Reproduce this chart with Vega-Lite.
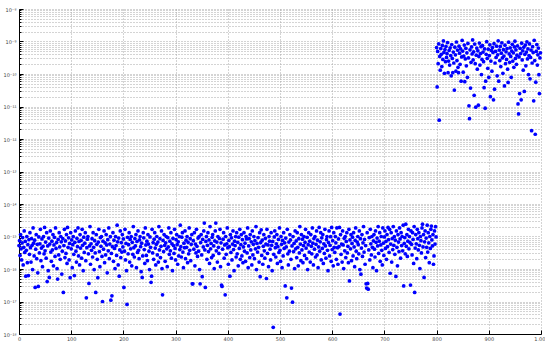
{
"$schema": "https://vega.github.io/schema/vega-lite/v6.json",
"width": 522, "height": 325,
"autosize": {"type": "none"},
"padding": {"left": 19, "top": 9, "right": 4, "bottom": 7},
"background": "white",
"config": {"view": {"stroke": null}},
"datasets": {"pts": [
{"x":0,"y":5.24e-16},{"x":1,"y":7.43e-16},{"x":2,"y":2.62e-16},{"x":3,"y":1.15e-15},{"x":4,"y":4.19e-16},{"x":5,"y":1.9e-16},{"x":6,"y":6.37e-16},{"x":7,"y":9.26e-16},{"x":8,"y":1.33e-16},{"x":9,"y":4.65e-16},
{"x":10,"y":1.48e-15},{"x":11,"y":3.22e-16},{"x":12,"y":7.02e-16},{"x":13,"y":6.0e-17},{"x":14,"y":3.75e-16},{"x":15,"y":1.0e-15},{"x":16,"y":1.56e-16},{"x":17,"y":5.61e-16},{"x":18,"y":6.3e-17},{"x":19,"y":7.98e-16},
{"x":20,"y":2.82e-16},{"x":21,"y":1.31e-15},{"x":22,"y":4.53e-16},{"x":23,"y":1.64e-16},{"x":24,"y":8.68e-16},{"x":25,"y":5.36e-16},{"x":26,"y":9.6e-17},{"x":27,"y":1.84e-15},{"x":28,"y":6.24e-16},{"x":29,"y":2.53e-16},
{"x":30,"y":7.7e-16},{"x":31,"y":2.7e-17},{"x":32,"y":4.08e-16},{"x":33,"y":1.15e-15},{"x":34,"y":2.07e-16},{"x":35,"y":5.73e-16},{"x":36,"y":7.6e-17},{"x":37,"y":2.9e-17},{"x":38,"y":9.7e-16},{"x":39,"y":3.12e-16},
{"x":40,"y":5.98e-16},{"x":41,"y":1.66e-15},{"x":42,"y":1.81e-16},{"x":43,"y":4.42e-16},{"x":44,"y":8.4e-16},{"x":45,"y":1.18e-16},{"x":46,"y":5.0e-16},{"x":47,"y":1.0e-15},{"x":48,"y":2.92e-16},{"x":49,"y":1.9e-15},
{"x":50,"y":3.64e-16},{"x":51,"y":6.76e-16},{"x":52,"y":2.16e-16},{"x":53,"y":1.31e-15},{"x":54,"y":4.1e-17},{"x":55,"y":5.12e-16},{"x":56,"y":8.9e-17},{"x":57,"y":8.97e-16},{"x":58,"y":5.5e-17},{"x":59,"y":5.86e-16},
{"x":60,"y":1.48e-15},{"x":61,"y":3.33e-16},{"x":62,"y":1.73e-16},{"x":63,"y":7.16e-16},{"x":64,"y":3.86e-16},{"x":65,"y":1.15e-15},{"x":66,"y":1.25e-16},{"x":67,"y":5.48e-16},{"x":68,"y":9.41e-16},{"x":69,"y":2.44e-16},
{"x":70,"y":1.84e-15},{"x":71,"y":4.3e-16},{"x":72,"y":6.5e-16},{"x":73,"y":1.03e-16},{"x":74,"y":4.9e-17},{"x":75,"y":8.11e-16},{"x":76,"y":2.72e-16},{"x":77,"y":1.31e-15},{"x":78,"y":4.76e-16},{"x":79,"y":1.98e-16},
{"x":80,"y":1.0e-15},{"x":81,"y":6.89e-16},{"x":82,"y":7.0e-17},{"x":83,"y":3.54e-16},{"x":84,"y":8.54e-16},{"x":85,"y":1.9e-17},{"x":86,"y":5.24e-16},{"x":87,"y":1.66e-15},{"x":88,"y":2.25e-16},{"x":89,"y":7.29e-16},
{"x":90,"y":3.02e-16},{"x":91,"y":1.15e-15},{"x":92,"y":1.48e-16},{"x":93,"y":1.9e-15},{"x":94,"y":4.65e-16},{"x":95,"y":9.11e-16},{"x":96,"y":1.9e-16},{"x":97,"y":6.11e-16},{"x":98,"y":5.4e-17},{"x":99,"y":1.31e-15},
{"x":100,"y":4.19e-16},{"x":101,"y":7.84e-16},{"x":102,"y":1.1e-16},{"x":103,"y":5.61e-16},{"x":104,"y":1.0e-15},{"x":105,"y":2.82e-16},{"x":106,"y":6.3e-17},{"x":107,"y":6.63e-16},{"x":108,"y":1.48e-15},{"x":109,"y":3.54e-16},
{"x":110,"y":1.64e-16},{"x":111,"y":8.83e-16},{"x":112,"y":4.88e-16},{"x":113,"y":1.84e-15},{"x":114,"y":2.53e-16},{"x":115,"y":7.02e-16},{"x":116,"y":1.33e-16},{"x":117,"y":1.15e-15},{"x":118,"y":4.42e-16},{"x":119,"y":7.56e-16},
{"x":120,"y":2.16e-16},{"x":121,"y":1.66e-15},{"x":122,"y":5.36e-16},{"x":123,"y":8.9e-17},{"x":124,"y":9.55e-16},{"x":125,"y":3.22e-16},{"x":126,"y":6.24e-16},{"x":127,"y":1.31e-15},{"x":128,"y":1.81e-16},{"x":129,"y":1.3e-17},
{"x":130,"y":4.53e-16},{"x":131,"y":8.26e-16},{"x":132,"y":1.0e-15},{"x":133,"y":2.92e-16},{"x":134,"y":3.6e-17},{"x":135,"y":5.12e-16},{"x":136,"y":2.02e-15},{"x":137,"y":1.4e-16},{"x":138,"y":5.98e-16},{"x":139,"y":3.75e-16},
{"x":140,"y":8.54e-16},{"x":141,"y":2.34e-16},{"x":142,"y":1.31e-15},{"x":143,"y":4.65e-16},{"x":144,"y":9.6e-17},{"x":145,"y":7.43e-16},{"x":146,"y":3.12e-16},{"x":147,"y":1.9e-17},{"x":148,"y":1.15e-15},{"x":149,"y":5.73e-16},
{"x":150,"y":1.98e-16},{"x":151,"y":5.4e-17},{"x":152,"y":6.76e-16},{"x":153,"y":1.66e-15},{"x":154,"y":3.43e-16},{"x":155,"y":1.18e-16},{"x":156,"y":9.26e-16},{"x":157,"y":5.0e-16},{"x":158,"y":1.0e-15},{"x":159,"y":2.44e-16},
{"x":160,"y":1.0e-17},{"x":161,"y":7.16e-16},{"x":162,"y":4.08e-16},{"x":163,"y":1.48e-15},{"x":164,"y":1.56e-16},{"x":165,"y":6.37e-16},{"x":166,"y":2.72e-16},{"x":167,"y":1.15e-15},{"x":168,"y":5.48e-16},{"x":169,"y":7.6e-17},
{"x":170,"y":7.98e-16},{"x":171,"y":3.64e-16},{"x":172,"y":1.84e-15},{"x":173,"y":2.07e-16},{"x":174,"y":5.86e-16},{"x":175,"y":9.85e-16},{"x":176,"y":1.1e-17},{"x":177,"y":3.02e-16},{"x":178,"y":1.5e-17},{"x":179,"y":4.88e-16},
{"x":180,"y":1.31e-15},{"x":181,"y":1.73e-16},{"x":182,"y":7.7e-16},{"x":183,"y":4.3e-16},{"x":184,"y":1.03e-16},{"x":185,"y":1.0e-15},{"x":186,"y":5.24e-16},{"x":187,"y":2.62e-16},{"x":188,"y":2.22e-15},{"x":189,"y":6.89e-16},
{"x":190,"y":1.33e-16},{"x":191,"y":8.97e-16},{"x":192,"y":6.0e-17},{"x":193,"y":3.86e-16},{"x":194,"y":1.48e-15},{"x":195,"y":2.25e-16},{"x":196,"y":6.5e-16},{"x":197,"y":3.33e-16},{"x":198,"y":1.15e-15},{"x":199,"y":4.76e-16},
{"x":200,"y":8.4e-16},{"x":201,"y":2.7e-17},{"x":202,"y":3.54e-16},{"x":203,"y":1.66e-15},{"x":204,"y":1.9e-16},{"x":205,"y":6.11e-16},{"x":206,"y":8.9e-17},{"x":207,"y":8.1e-18},{"x":208,"y":9.41e-16},{"x":209,"y":2.92e-16},
{"x":210,"y":5.61e-16},{"x":211,"y":1.31e-15},{"x":212,"y":1.64e-16},{"x":213,"y":8.11e-16},{"x":214,"y":4.19e-16},{"x":215,"y":1.0e-15},{"x":216,"y":1.25e-16},{"x":217,"y":6.63e-16},{"x":218,"y":2.82e-16},{"x":219,"y":2.02e-15},
{"x":220,"y":4.53e-16},{"x":221,"y":2.34e-16},{"x":222,"y":8.68e-16},{"x":223,"y":5.12e-16},{"x":224,"y":1.15e-15},{"x":225,"y":1.1e-16},{"x":226,"y":7.02e-16},{"x":227,"y":3.22e-16},{"x":228,"y":1.48e-15},{"x":229,"y":3.75e-16},
{"x":230,"y":2.07e-16},{"x":231,"y":7.84e-16},{"x":232,"y":1.0e-15},{"x":233,"y":4.88e-16},{"x":234,"y":8.3e-17},{"x":235,"y":6.24e-16},{"x":236,"y":5.5e-17},{"x":237,"y":2.53e-16},{"x":238,"y":1.31e-15},{"x":239,"y":9.11e-16},
{"x":240,"y":3.97e-16},{"x":241,"y":1.48e-16},{"x":242,"y":1.84e-15},{"x":243,"y":5.48e-16},{"x":244,"y":2.62e-16},{"x":245,"y":7.16e-16},{"x":246,"y":1.81e-16},{"x":247,"y":1.15e-15},{"x":248,"y":5.86e-16},{"x":249,"y":3.54e-16},
{"x":250,"y":9.6e-17},{"x":251,"y":9.7e-16},{"x":252,"y":4.65e-16},{"x":253,"y":3.9e-17},{"x":254,"y":6.0e-17},{"x":255,"y":1.66e-15},{"x":256,"y":3.12e-16},{"x":257,"y":6.5e-16},{"x":258,"y":1.98e-16},{"x":259,"y":8.26e-16},
{"x":260,"y":1.31e-15},{"x":261,"y":4.42e-16},{"x":262,"y":1.33e-16},{"x":263,"y":5.73e-16},{"x":264,"y":1.0e-15},{"x":265,"y":2.72e-16},{"x":266,"y":6.76e-16},{"x":267,"y":1.64e-16},{"x":268,"y":2.02e-15},{"x":269,"y":3.86e-16},
{"x":270,"y":8.54e-16},{"x":271,"y":2.25e-16},{"x":272,"y":5.0e-16},{"x":273,"y":1.48e-15},{"x":274,"y":1.03e-16},{"x":275,"y":1.6e-17},{"x":276,"y":7.56e-16},{"x":277,"y":3.43e-16},{"x":278,"y":1.15e-15},{"x":279,"y":5.36e-16},
{"x":280,"y":1.73e-16},{"x":281,"y":6.37e-16},{"x":282,"y":1.0e-15},{"x":283,"y":4.19e-16},{"x":284,"y":1.18e-16},{"x":285,"y":9.26e-16},{"x":286,"y":4.76e-16},{"x":287,"y":1.84e-15},{"x":288,"y":2.82e-16},{"x":289,"y":7.16e-16},
{"x":290,"y":3.64e-16},{"x":291,"y":1.31e-15},{"x":292,"y":2.16e-16},{"x":293,"y":5.98e-16},{"x":294,"y":8.9e-17},{"x":295,"y":8.83e-16},{"x":296,"y":5.24e-16},{"x":297,"y":3.02e-16},{"x":298,"y":1.66e-15},{"x":299,"y":4.3e-16},
{"x":300,"y":1.9e-16},{"x":301,"y":7.98e-16},{"x":302,"y":1.15e-15},{"x":303,"y":5.61e-16},{"x":304,"y":1.4e-16},{"x":305,"y":6.89e-16},{"x":306,"y":2.53e-16},{"x":307,"y":1.0e-15},{"x":308,"y":3.97e-16},{"x":309,"y":2.22e-15},
{"x":310,"y":4.88e-16},{"x":311,"y":2.34e-16},{"x":312,"y":9.55e-16},{"x":313,"y":1.31e-15},{"x":314,"y":3.33e-16},{"x":315,"y":1.1e-16},{"x":316,"y":6.24e-16},{"x":317,"y":4.53e-16},{"x":318,"y":1.48e-15},{"x":319,"y":2.07e-16},
{"x":320,"y":7.7e-16},{"x":321,"y":4.65e-16},{"x":322,"y":1.0e-15},{"x":323,"y":1.56e-16},{"x":324,"y":6.63e-16},{"x":325,"y":2.92e-16},{"x":326,"y":1.84e-15},{"x":327,"y":3.75e-16},{"x":328,"y":8.54e-16},{"x":329,"y":1.81e-16},
{"x":330,"y":5.73e-16},{"x":331,"y":1.15e-15},{"x":332,"y":3.5e-17},{"x":333,"y":3.5e-17},{"x":334,"y":7.43e-16},{"x":335,"y":4.08e-16},{"x":336,"y":1.31e-15},{"x":337,"y":1.25e-16},{"x":338,"y":5.86e-16},{"x":339,"y":3.12e-16},
{"x":340,"y":1.66e-15},{"x":341,"y":5.0e-16},{"x":342,"y":2.44e-16},{"x":343,"y":8.97e-16},{"x":344,"y":3.54e-16},{"x":345,"y":1.0e-15},{"x":346,"y":9.6e-17},{"x":347,"y":3.5e-17},{"x":348,"y":6.5e-16},{"x":349,"y":1.15e-15},
{"x":350,"y":2.72e-16},{"x":351,"y":5.8e-17},{"x":352,"y":8.11e-16},{"x":353,"y":4.76e-16},{"x":354,"y":1.48e-15},{"x":355,"y":2.6e-15},{"x":356,"y":3.86e-16},{"x":357,"y":2.7e-17},{"x":358,"y":7.02e-16},{"x":359,"y":1.0e-15},
{"x":360,"y":1.98e-16},{"x":361,"y":5.36e-16},{"x":362,"y":1.31e-15},{"x":363,"y":3.43e-16},{"x":364,"y":7.84e-16},{"x":365,"y":1.48e-16},{"x":366,"y":2.02e-15},{"x":367,"y":4.19e-16},{"x":368,"y":6.11e-16},{"x":369,"y":2.25e-16},
{"x":370,"y":9.41e-16},{"x":371,"y":1.15e-15},{"x":372,"y":2.62e-16},{"x":373,"y":5.12e-16},{"x":374,"y":1.03e-16},{"x":375,"y":7.29e-16},{"x":376,"y":1.48e-15},{"x":377,"y":2.6e-15},{"x":378,"y":3.64e-16},{"x":379,"y":6.76e-16},
{"x":380,"y":1.64e-16},{"x":381,"y":1.0e-15},{"x":382,"y":4.65e-16},{"x":383,"y":3.02e-16},{"x":384,"y":8.68e-16},{"x":385,"y":1.66e-15},{"x":386,"y":1.18e-16},{"x":387,"y":6.37e-16},{"x":388,"y":3.2e-17},{"x":389,"y":2.9e-17},
{"x":390,"y":4.08e-16},{"x":391,"y":8.26e-16},{"x":392,"y":1.31e-15},{"x":393,"y":2.16e-16},{"x":394,"y":5.48e-16},{"x":395,"y":1.6e-17},{"x":396,"y":1.0e-15},{"x":397,"y":2.82e-16},{"x":398,"y":5.98e-16},{"x":399,"y":1.84e-15},
{"x":400,"y":4.53e-16},{"x":401,"y":1.4e-16},{"x":402,"y":7.56e-16},{"x":403,"y":4.88e-16},{"x":404,"y":6.0e-17},{"x":405,"y":1.15e-15},{"x":406,"y":3.22e-16},{"x":407,"y":9.11e-16},{"x":408,"y":1.9e-16},{"x":409,"y":5.86e-16},
{"x":410,"y":1.48e-15},{"x":411,"y":3.97e-16},{"x":412,"y":8.9e-17},{"x":413,"y":7.16e-16},{"x":414,"y":5.24e-16},{"x":415,"y":1.0e-15},{"x":416,"y":2.34e-16},{"x":417,"y":1.31e-15},{"x":418,"y":2.92e-16},{"x":419,"y":6.63e-16},
{"x":420,"y":1.25e-16},{"x":421,"y":9.55e-16},{"x":422,"y":4.3e-16},{"x":423,"y":1.66e-15},{"x":424,"y":1.98e-16},{"x":425,"y":5.61e-16},{"x":426,"y":1.15e-15},{"x":427,"y":2.53e-16},{"x":428,"y":7.98e-16},{"x":429,"y":1.56e-16},
{"x":430,"y":4.76e-16},{"x":431,"y":1.31e-15},{"x":432,"y":3.54e-16},{"x":433,"y":6.24e-16},{"x":434,"y":1.73e-16},{"x":435,"y":1.0e-15},{"x":436,"y":8.4e-16},{"x":437,"y":3.12e-16},{"x":438,"y":1.84e-15},{"x":439,"y":1.1e-16},
{"x":440,"y":5.12e-16},{"x":441,"y":8.54e-16},{"x":442,"y":2.25e-16},{"x":443,"y":1.15e-15},{"x":444,"y":3.86e-16},{"x":445,"y":6.89e-16},{"x":446,"y":1.33e-16},{"x":447,"y":1.48e-15},{"x":448,"y":2.72e-16},{"x":449,"y":5.73e-16},
{"x":450,"y":1.0e-15},{"x":451,"y":2.07e-16},{"x":452,"y":7.43e-16},{"x":453,"y":4.19e-16},{"x":454,"y":2.02e-15},{"x":455,"y":9.6e-17},{"x":456,"y":6.11e-16},{"x":457,"y":3.33e-16},{"x":458,"y":9.26e-16},{"x":459,"y":4.65e-16},
{"x":460,"y":1.64e-16},{"x":461,"y":1.31e-15},{"x":462,"y":5.8e-17},{"x":463,"y":6.5e-16},{"x":464,"y":1.6e-15},{"x":465,"y":2.62e-16},{"x":466,"y":7.7e-16},{"x":467,"y":1.4e-16},{"x":468,"y":5.0e-16},{"x":469,"y":1.15e-15},
{"x":470,"y":3.64e-16},{"x":471,"y":2.16e-16},{"x":472,"y":8.83e-16},{"x":473,"y":5.86e-16},{"x":474,"y":5.1e-17},{"x":475,"y":1.66e-15},{"x":476,"y":3.02e-16},{"x":477,"y":5.48e-16},{"x":478,"y":1.18e-16},{"x":479,"y":1.0e-15},
{"x":480,"y":7.16e-16},{"x":481,"y":4.08e-16},{"x":482,"y":1.9e-16},{"x":483,"y":1.31e-15},{"x":484,"y":5.36e-16},{"x":485,"y":8.9e-17},{"x":486,"y":7.02e-16},{"x":487,"y":1.6e-18},{"x":488,"y":2.82e-16},{"x":489,"y":9.7e-16},
{"x":490,"y":1.48e-15},{"x":491,"y":4.53e-16},{"x":492,"y":2.34e-16},{"x":493,"y":5.98e-16},{"x":494,"y":1.15e-15},{"x":495,"y":1.48e-16},{"x":496,"y":4.88e-16},{"x":497,"y":8.11e-16},{"x":498,"y":3.22e-16},{"x":499,"y":1.84e-15},
{"x":500,"y":3.75e-16},{"x":501,"y":1.73e-16},{"x":502,"y":1.0e-15},{"x":503,"y":5.73e-16},{"x":504,"y":1.1e-16},{"x":505,"y":7.56e-16},{"x":506,"y":2.53e-16},{"x":507,"y":1.31e-15},{"x":508,"y":4.3e-16},{"x":509,"y":6.37e-16},
{"x":510,"y":3.0e-17},{"x":511,"y":8.97e-16},{"x":512,"y":4.76e-16},{"x":513,"y":1.3e-17},{"x":514,"y":1.66e-15},{"x":515,"y":2.92e-16},{"x":516,"y":1.33e-16},{"x":517,"y":6.76e-16},{"x":518,"y":3.54e-16},{"x":519,"y":1.15e-15},
{"x":520,"y":7.84e-16},{"x":521,"y":1.98e-16},{"x":522,"y":2.6e-17},{"x":523,"y":5.12e-16},{"x":524,"y":9.5e-18},{"x":525,"y":1.0e-15},{"x":526,"y":3.43e-16},{"x":527,"y":6.11e-16},{"x":528,"y":1.03e-16},{"x":529,"y":1.48e-15},
{"x":530,"y":4.19e-16},{"x":531,"y":7.29e-16},{"x":532,"y":2.25e-16},{"x":533,"y":1.31e-15},{"x":534,"y":4.65e-16},{"x":535,"y":1.25e-16},{"x":536,"y":8.54e-16},{"x":537,"y":3.12e-16},{"x":538,"y":2.02e-15},{"x":539,"y":5.86e-16},
{"x":540,"y":1.81e-16},{"x":541,"y":1.15e-15},{"x":542,"y":3.86e-16},{"x":543,"y":8.26e-16},{"x":544,"y":1.56e-16},{"x":545,"y":5.24e-16},{"x":546,"y":1.0e-15},{"x":547,"y":2.62e-16},{"x":548,"y":6.63e-16},{"x":549,"y":1.66e-15},
{"x":550,"y":4.42e-16},{"x":551,"y":2.07e-16},{"x":552,"y":9.41e-16},{"x":553,"y":9.6e-17},{"x":554,"y":5.61e-16},{"x":555,"y":1.31e-15},{"x":556,"y":3.33e-16},{"x":557,"y":7.16e-16},{"x":558,"y":1.64e-16},{"x":559,"y":1.15e-15},
{"x":560,"y":5.0e-16},{"x":561,"y":2.92e-16},{"x":562,"y":1.84e-15},{"x":563,"y":6.24e-16},{"x":564,"y":1.33e-16},{"x":565,"y":8.68e-16},{"x":566,"y":4.08e-16},{"x":567,"y":1.0e-15},{"x":568,"y":2.34e-16},{"x":569,"y":5.73e-16},
{"x":570,"y":1.48e-15},{"x":571,"y":2.72e-16},{"x":572,"y":7.7e-16},{"x":573,"y":1.1e-16},{"x":574,"y":4.76e-16},{"x":575,"y":1.9e-15},{"x":576,"y":3.54e-16},{"x":577,"y":6.89e-16},{"x":578,"y":1.31e-15},{"x":579,"y":1.9e-16},
{"x":580,"y":9.11e-16},{"x":581,"y":4.3e-16},{"x":582,"y":1.15e-15},{"x":583,"y":1.48e-16},{"x":584,"y":5.98e-16},{"x":585,"y":3.02e-16},{"x":586,"y":1.66e-15},{"x":587,"y":5.12e-16},{"x":588,"y":2.16e-16},{"x":589,"y":7.98e-16},
{"x":590,"y":1.0e-15},{"x":591,"y":3.75e-16},{"x":592,"y":8.9e-17},{"x":593,"y":6.5e-16},{"x":594,"y":1.48e-15},{"x":595,"y":2.53e-16},{"x":596,"y":5.36e-16},{"x":597,"y":9.85e-16},{"x":598,"y":1.73e-16},{"x":599,"y":1.9e-15},
{"x":600,"y":3.97e-16},{"x":601,"y":7.43e-16},{"x":602,"y":1.25e-16},{"x":603,"y":1.31e-15},{"x":604,"y":4.65e-16},{"x":605,"y":3.22e-16},{"x":606,"y":1.0e-15},{"x":607,"y":6.37e-16},{"x":608,"y":1.98e-16},{"x":609,"y":1.84e-15},
{"x":610,"y":4.53e-16},{"x":611,"y":1.4e-16},{"x":612,"y":8.4e-16},{"x":613,"y":4.88e-16},{"x":614,"y":1.9e-15},{"x":615,"y":4.1e-18},{"x":616,"y":1.15e-15},{"x":617,"y":2.82e-16},{"x":618,"y":5.86e-16},{"x":619,"y":1.64e-16},
{"x":620,"y":1.48e-15},{"x":621,"y":5.48e-16},{"x":622,"y":1.03e-16},{"x":623,"y":8.83e-16},{"x":624,"y":3.64e-16},{"x":625,"y":1.0e-15},{"x":626,"y":2.25e-16},{"x":627,"y":7.02e-16},{"x":628,"y":1.31e-15},{"x":629,"y":3.12e-16},
{"x":630,"y":5.0e-16},{"x":631,"y":1.56e-16},{"x":632,"y":1.66e-15},{"x":633,"y":4.3e-17},{"x":634,"y":7.84e-16},{"x":635,"y":4.19e-16},{"x":636,"y":1.15e-15},{"x":637,"y":1.81e-16},{"x":638,"y":6.11e-16},{"x":639,"y":9.55e-16},
{"x":640,"y":2.53e-16},{"x":641,"y":1.31e-15},{"x":642,"y":4.76e-16},{"x":643,"y":1.18e-16},{"x":644,"y":7.56e-16},{"x":645,"y":1.84e-15},{"x":646,"y":3.54e-16},{"x":647,"y":2.07e-16},{"x":648,"y":6.76e-16},{"x":649,"y":1.0e-15},
{"x":650,"y":5.61e-16},{"x":651,"y":2.92e-16},{"x":652,"y":1.48e-15},{"x":653,"y":9.6e-17},{"x":654,"y":8.54e-16},{"x":655,"y":6.9e-17},{"x":656,"y":4.42e-16},{"x":657,"y":1.15e-15},{"x":658,"y":2.44e-16},{"x":659,"y":6.37e-16},
{"x":660,"y":2.02e-15},{"x":661,"y":3.33e-16},{"x":662,"y":8.11e-16},{"x":663,"y":1.4e-16},{"x":664,"y":5.24e-16},{"x":665,"y":3.5e-17},{"x":666,"y":2.6e-17},{"x":667,"y":1.31e-15},{"x":668,"y":3.6e-17},{"x":669,"y":2.4e-17},
{"x":670,"y":3.86e-16},{"x":671,"y":9.26e-16},{"x":672,"y":1.9e-16},{"x":673,"y":1.66e-15},{"x":674,"y":5.98e-16},{"x":675,"y":2.72e-16},{"x":676,"y":1.0e-15},{"x":677,"y":4.65e-16},{"x":678,"y":1.1e-16},{"x":679,"y":7.29e-16},
{"x":680,"y":1.15e-15},{"x":681,"y":4.08e-16},{"x":682,"y":2.34e-16},{"x":683,"y":1.48e-15},{"x":684,"y":6.63e-16},{"x":685,"y":8.9e-17},{"x":686,"y":8.97e-16},{"x":687,"y":5.12e-16},{"x":688,"y":2.02e-15},{"x":689,"y":3.02e-16},
{"x":690,"y":7.16e-16},{"x":691,"y":1.31e-15},{"x":692,"y":1.73e-16},{"x":693,"y":5.48e-16},{"x":694,"y":1.0e-15},{"x":695,"y":3.75e-16},{"x":696,"y":1.33e-16},{"x":697,"y":1.84e-15},{"x":698,"y":6.24e-16},{"x":699,"y":2.62e-16},
{"x":700,"y":9.7e-16},{"x":701,"y":1.48e-15},{"x":702,"y":4.3e-16},{"x":703,"y":7.02e-16},{"x":704,"y":1.98e-16},{"x":705,"y":1.15e-15},{"x":706,"y":4.88e-16},{"x":707,"y":1.9e-15},{"x":708,"y":7.98e-16},{"x":709,"y":3.22e-16},
{"x":710,"y":1.66e-15},{"x":711,"y":7.4e-17},{"x":712,"y":5.86e-16},{"x":713,"y":1.31e-15},{"x":714,"y":1.64e-16},{"x":715,"y":8.68e-16},{"x":716,"y":3.97e-16},{"x":717,"y":2.02e-15},{"x":718,"y":5.36e-16},{"x":719,"y":1.0e-15},
{"x":720,"y":2.82e-16},{"x":721,"y":7.7e-16},{"x":722,"y":5.9e-17},{"x":723,"y":1.48e-15},{"x":724,"y":4.65e-16},{"x":725,"y":1.25e-16},{"x":726,"y":1.15e-15},{"x":727,"y":6.76e-16},{"x":728,"y":3.43e-16},{"x":729,"y":1.84e-15},
{"x":730,"y":8.4e-16},{"x":731,"y":2.16e-16},{"x":732,"y":1.31e-15},{"x":733,"y":5.24e-16},{"x":734,"y":1.0e-15},{"x":735,"y":3.64e-16},{"x":736,"y":2.22e-15},{"x":737,"y":3.0e-17},{"x":738,"y":6.11e-16},{"x":739,"y":9.26e-16},
{"x":740,"y":2.92e-16},{"x":741,"y":2.4e-15},{"x":742,"y":5.0e-16},{"x":743,"y":1.15e-15},{"x":744,"y":2.44e-16},{"x":745,"y":7.16e-16},{"x":746,"y":1.66e-15},{"x":747,"y":4.19e-16},{"x":748,"y":1.0e-15},{"x":749,"y":6.5e-16},
{"x":750,"y":3.2e-17},{"x":751,"y":1.48e-15},{"x":752,"y":5.73e-16},{"x":753,"y":2.72e-16},{"x":754,"y":1.31e-15},{"x":755,"y":8.11e-16},{"x":756,"y":1.48e-16},{"x":757,"y":2.02e-15},{"x":758,"y":1.9e-17},{"x":759,"y":4.42e-16},
{"x":760,"y":1.15e-15},{"x":761,"y":5.98e-16},{"x":762,"y":2.07e-16},{"x":763,"y":1.66e-15},{"x":764,"y":8.54e-16},{"x":765,"y":3.86e-16},{"x":766,"y":1.31e-15},{"x":767,"y":5.36e-16},{"x":768,"y":1.03e-16},{"x":769,"y":1.0e-15},
{"x":770,"y":7.43e-16},{"x":771,"y":3.12e-16},{"x":772,"y":1.84e-15},{"x":773,"y":2.4e-15},{"x":774,"y":4.76e-16},{"x":775,"y":1.15e-15},{"x":776,"y":5.5e-17},{"x":777,"y":6.89e-16},{"x":778,"y":1.48e-15},{"x":779,"y":2.25e-16},
{"x":780,"y":8.97e-16},{"x":781,"y":4.65e-16},{"x":782,"y":2.22e-15},{"x":783,"y":3.33e-16},{"x":784,"y":1.31e-15},{"x":785,"y":6.37e-16},{"x":786,"y":1.56e-16},{"x":787,"y":1.0e-15},{"x":788,"y":4.3e-16},{"x":789,"y":1.66e-15},
{"x":790,"y":2.1e-15},{"x":791,"y":7.84e-16},{"x":792,"y":5.12e-16},{"x":793,"y":1.15e-15},{"x":794,"y":1.4e-16},{"x":795,"y":2.53e-16},{"x":796,"y":1.48e-15},{"x":797,"y":5.86e-16},{"x":798,"y":2.0e-15},{"x":799,"y":9.7e-16},
{"x":800,"y":6.53e-10},{"x":801,"y":4.0e-11},{"x":802,"y":4.95e-10},{"x":803,"y":2.08e-10},{"x":804,"y":8.45e-10},{"x":805,"y":3.8e-12},{"x":806,"y":3.46e-10},{"x":807,"y":1.31e-10},{"x":808,"y":6.04e-10},{"x":809,"y":4.02e-10},
{"x":810,"y":1.69e-10},{"x":811,"y":7.55e-10},{"x":812,"y":2.81e-10},{"x":813,"y":1.04e-9},{"x":814,"y":4.59e-10},{"x":815,"y":1.05e-10},{"x":816,"y":5.67e-10},{"x":817,"y":2.39e-10},{"x":818,"y":7.03e-10},{"x":819,"y":3.24e-10},
{"x":820,"y":4.25e-10},{"x":821,"y":9.25e-10},{"x":822,"y":1.1e-10},{"x":823,"y":2.49e-10},{"x":824,"y":5.31e-10},{"x":825,"y":1.89e-10},{"x":826,"y":6.41e-10},{"x":827,"y":3.68e-10},{"x":828,"y":8.8e-11},{"x":829,"y":8.07e-10},
{"x":830,"y":3.02e-10},{"x":831,"y":1.1e-10},{"x":832,"y":4.72e-10},{"x":833,"y":2.18e-10},{"x":834,"y":3.2e-11},{"x":835,"y":6.66e-10},{"x":836,"y":3.9e-10},{"x":837,"y":1.22e-10},{"x":838,"y":9.65e-10},{"x":839,"y":2.6e-10},
{"x":840,"y":5.43e-10},{"x":841,"y":1.6e-10},{"x":842,"y":1.1e-10},{"x":843,"y":7.16e-10},{"x":844,"y":4.36e-10},{"x":845,"y":1.98e-10},{"x":846,"y":5.92e-10},{"x":847,"y":6.0e-11},{"x":848,"y":3.35e-10},{"x":849,"y":1.08e-9},
{"x":850,"y":5.07e-10},{"x":851,"y":1.14e-10},{"x":852,"y":3.57e-10},{"x":853,"y":7.8e-10},{"x":854,"y":5.8e-11},{"x":855,"y":2.91e-10},{"x":856,"y":6.16e-10},{"x":857,"y":1.79e-10},{"x":858,"y":4.48e-10},{"x":859,"y":7.9e-11},
{"x":860,"y":8.72e-10},{"x":861,"y":3.13e-10},{"x":862,"y":1.05e-11},{"x":863,"y":4.2e-12},{"x":864,"y":5.55e-10},{"x":865,"y":3.7e-11},{"x":866,"y":2.28e-10},{"x":867,"y":6.78e-10},{"x":868,"y":4.13e-10},{"x":869,"y":1.12e-9},
{"x":870,"y":2.7e-10},{"x":871,"y":4.83e-10},{"x":872,"y":2.2e-11},{"x":873,"y":8.33e-10},{"x":874,"y":2.08e-10},{"x":875,"y":9.5e-12},{"x":876,"y":3.79e-10},{"x":877,"y":6.28e-10},{"x":878,"y":1.41e-10},{"x":879,"y":5.19e-10},
{"x":880,"y":1.1e-11},{"x":881,"y":3.46e-10},{"x":882,"y":8.98e-10},{"x":883,"y":1.89e-10},{"x":884,"y":4.25e-10},{"x":885,"y":6.91e-10},{"x":886,"y":9.6e-11},{"x":887,"y":2.81e-10},{"x":888,"y":7.42e-10},{"x":889,"y":4.72e-10},
{"x":890,"y":2.39e-10},{"x":891,"y":3.8e-11},{"x":892,"y":5.92e-10},{"x":893,"y":8.9e-12},{"x":894,"y":6.0e-11},{"x":895,"y":4.02e-10},{"x":896,"y":9.9e-10},{"x":897,"y":3.02e-10},{"x":898,"y":1.5e-10},{"x":899,"y":5.79e-10},
{"x":900,"y":7.9e-11},{"x":901,"y":3.68e-10},{"x":902,"y":7.94e-10},{"x":903,"y":2.0e-11},{"x":904,"y":2.49e-10},{"x":905,"y":5.31e-10},{"x":906,"y":1.22e-10},{"x":907,"y":6.53e-10},{"x":908,"y":4.59e-10},{"x":909,"y":1.6e-11},
{"x":910,"y":8.58e-10},{"x":911,"y":3.4e-11},{"x":912,"y":2.18e-10},{"x":913,"y":4.95e-10},{"x":914,"y":3.24e-10},{"x":915,"y":7.16e-10},{"x":916,"y":8.8e-11},{"x":917,"y":3.9e-10},{"x":918,"y":1.05e-9},{"x":919,"y":6.0e-11},
{"x":920,"y":5.43e-10},{"x":921,"y":2.6e-10},{"x":922,"y":7.03e-10},{"x":923,"y":1.69e-10},{"x":924,"y":4.36e-10},{"x":925,"y":9.1e-10},{"x":926,"y":3.13e-10},{"x":927,"y":1.05e-10},{"x":928,"y":5.67e-10},{"x":929,"y":3.57e-10},
{"x":930,"y":4.3e-11},{"x":931,"y":7.67e-10},{"x":932,"y":2.08e-10},{"x":933,"y":4.83e-10},{"x":934,"y":2.81e-10},{"x":935,"y":6.04e-10},{"x":936,"y":1.41e-10},{"x":937,"y":5.5e-11},{"x":938,"y":9.5e-10},{"x":939,"y":4.13e-10},
{"x":940,"y":2.28e-10},{"x":941,"y":6.41e-10},{"x":942,"y":3.46e-10},{"x":943,"y":7.9e-11},{"x":944,"y":5.07e-10},{"x":945,"y":8.2e-10},{"x":946,"y":2.49e-10},{"x":947,"y":4.48e-10},{"x":948,"y":1.6e-10},{"x":949,"y":6.78e-10},
{"x":950,"y":1.02e-9},{"x":951,"y":3.02e-10},{"x":952,"y":5.55e-10},{"x":953,"y":1.98e-10},{"x":954,"y":3.79e-10},{"x":955,"y":7.29e-10},{"x":956,"y":1.2e-11},{"x":957,"y":5.9e-12},{"x":958,"y":3.35e-10},{"x":959,"y":2.5e-11},
{"x":960,"y":6.16e-10},{"x":961,"y":4.25e-10},{"x":962,"y":1.6e-11},{"x":963,"y":8.85e-10},{"x":964,"y":2.7e-10},{"x":965,"y":5.19e-10},{"x":966,"y":1.31e-10},{"x":967,"y":6.66e-10},{"x":968,"y":2.9e-11},{"x":969,"y":4.02e-10},
{"x":970,"y":7.8e-10},{"x":971,"y":1.79e-10},{"x":972,"y":4.72e-10},{"x":973,"y":9.77e-10},{"x":974,"y":2.91e-10},{"x":975,"y":5.92e-10},{"x":976,"y":9.6e-11},{"x":977,"y":3.68e-10},{"x":978,"y":8.45e-10},{"x":979,"y":7.1e-11},
{"x":980,"y":3.24e-10},{"x":981,"y":5.43e-10},{"x":982,"y":1.8e-12},{"x":983,"y":2.18e-10},{"x":984,"y":6.91e-10},{"x":985,"y":4.59e-10},{"x":986,"y":1.5e-11},{"x":987,"y":1.09e-9},{"x":988,"y":2.6e-10},{"x":989,"y":1.4e-12},
{"x":990,"y":5.6e-11},{"x":991,"y":4.95e-10},{"x":992,"y":8.07e-10},{"x":993,"y":1.89e-10},{"x":994,"y":3.9e-10},{"x":995,"y":6.28e-10},{"x":996,"y":9.5e-11},{"x":997,"y":2.5e-11},{"x":998,"y":3.13e-10},{"x":999,"y":4.48e-10}
]},
"data": {"name": "pts"},
"mark": {"type": "circle", "size": 14, "color": "#0000ff", "opacity": 1},
"encoding": {
  "x": {"field": "x", "type": "quantitative",
    "scale": {"domain": [0, 1000], "nice": false, "zero": false},
    "axis": {"title": null, "values": [0,100,200,300,400,500,600,700,800,900,1000],
      "grid": true, "gridDash": [1, 2], "gridColor": "#a8a8a8", "gridWidth": 1,
      "domainColor": "#000000", "domainWidth": 1, "tickColor": "#000000", "tickSize": -4, "tickWidth": 1,
      "labelFontSize": 5, "labelFont": "DejaVu Sans", "labelColor": "#444444", "labelPadding": 6, "labelFlush": false}},
  "y": {"field": "y", "type": "quantitative",
    "scale": {"type": "log", "domain": [1e-18, 1e-8], "nice": false},
    "axis": {"title": null,
      "values": [1e-18,2e-18,3e-18,4e-18,5e-18,6e-18,7e-18,8e-18,9e-18,1e-17,2e-17,3e-17,4e-17,5e-17,6e-17,7e-17,8e-17,9e-17,1e-16,2e-16,3e-16,4e-16,5e-16,6e-16,7e-16,8e-16,9e-16,1e-15,2e-15,3e-15,4e-15,5e-15,6e-15,7e-15,8e-15,9e-15,1e-14,2e-14,3e-14,4e-14,5e-14,6e-14,7e-14,8e-14,9e-14,1e-13,2e-13,3e-13,4e-13,5e-13,6e-13,7e-13,8e-13,9e-13,1e-12,2e-12,3e-12,4e-12,5e-12,6e-12,7e-12,8e-12,9e-12,1e-11,2e-11,3e-11,4e-11,5e-11,6e-11,7e-11,8e-11,9e-11,1e-10,2e-10,3e-10,4e-10,5e-10,6e-10,7e-10,8e-10,9e-10,1e-9,2e-9,3e-9,4e-9,5e-9,6e-9,7e-9,8e-9,9e-9,1e-8],
      "labelExpr": "abs(log(datum.value)/LN10 - round(log(datum.value)/LN10)) < 0.001 ? '10⁻' + (round(-log(datum.value)/LN10) >= 10 ? '¹' + substring('⁰¹²³⁴⁵⁶⁷⁸⁹', round(-log(datum.value)/LN10) - 10, round(-log(datum.value)/LN10) - 9) : substring('⁰¹²³⁴⁵⁶⁷⁸⁹', round(-log(datum.value)/LN10), round(-log(datum.value)/LN10) + 1)) : ''",
      "labelOverlap": false, "labelFlush": false, "labelBound": false,
      "grid": true, "gridDash": [1, 2], "gridColor": "#a8a8a8", "gridWidth": 1,
      "domainColor": "#000000", "domainWidth": 1, "tickColor": "#000000",
      "tickSize": {"condition": {"test": "abs(log(datum.value)/LN10 - round(log(datum.value)/LN10)) < 0.001", "value": -4}, "value": -2},
      "tickWidth": 1,
      "labelFontSize": 5, "labelFont": "DejaVu Sans", "labelColor": "#444444", "labelPadding": 7}}
}
}
